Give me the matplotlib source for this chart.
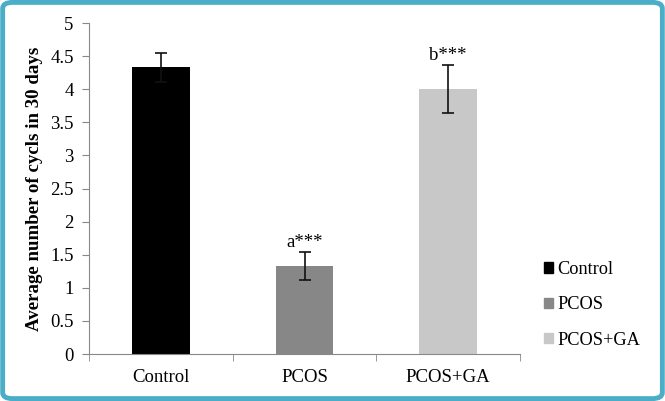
import matplotlib
matplotlib.use("Agg")
import matplotlib.pyplot as plt
from matplotlib.patches import FancyBboxPatch, Patch
import numpy as np

groups = ["Control", "PCOS", "PCOS+GA"]
means = [4.33, 1.33, 4.0]
errs = [0.22, 0.21, 0.36]
marks = ["", "a***", "b***"]
colors = ["#000000", "#878787", "#c8c8c8"]

plt.rcParams["font.family"] = ["Liberation Serif", "DejaVu Serif"]

fig = plt.figure(figsize=(6.65, 4.01), dpi=100)
ax = fig.add_axes([0.1338, 0.1172, 0.6482, 0.8254])

x = np.arange(len(groups))
ax.bar(x, means, width=0.4, color=colors, zorder=2)
ax.errorbar(x, means, yerr=errs, fmt="none", ecolor="#111111", elinewidth=1.2,
            capsize=4, capthick=1.2, zorder=3)
for xi, m, e, t in zip(x, means, errs, marks):
    if t:
        ax.text(xi, m + e + 0.02, t, ha="center", va="bottom", fontsize=13.5)

ax.set_xlim(-0.5, 2.5)
ax.set_ylim(0, 5)
ax.set_yticks(np.arange(0, 5.01, 0.5))
ax.set_yticklabels(["0", "0.5", "1", "1.5", "2", "2.5", "3", "3.5", "4", "4.5", "5"])
ax.set_xticks(x)
ax.set_xticklabels(groups)
ax.set_xticks([-0.5, 0.5, 1.5, 2.5], minor=True)
ax.tick_params(axis="x", which="major", length=0, labelsize=13.5, pad=11)
ax.tick_params(axis="x", which="minor", length=5, color="#888888", direction="out")
ax.tick_params(axis="y", labelsize=13.5, length=5, color="#888888", pad=6)
for s in ["top", "right"]:
    ax.spines[s].set_visible(False)
for s in ["left", "bottom"]:
    ax.spines[s].set_color("#888888")
ax.set_ylabel("Average number of cycls in 30 days", fontsize=13.6, fontweight="bold", labelpad=5)

handles = [Patch(color=c, label=g) for c, g in zip(colors, groups)]
fig.legend(handles=handles, loc="upper left", bbox_to_anchor=(0.793, 0.39),
           frameon=False, fontsize=13.2, handlelength=0.5, handleheight=0.5,
           handletextpad=0.25, labelspacing=1.0)

border = FancyBboxPatch((0.004, 0.006), 0.992, 0.988, boxstyle="round,pad=0,rounding_size=0.015",
                        transform=fig.transFigure, fill=False, edgecolor="#4badc6", linewidth=3.5)
fig.patches.append(border)

fig.savefig("out.png", dpi=100)
